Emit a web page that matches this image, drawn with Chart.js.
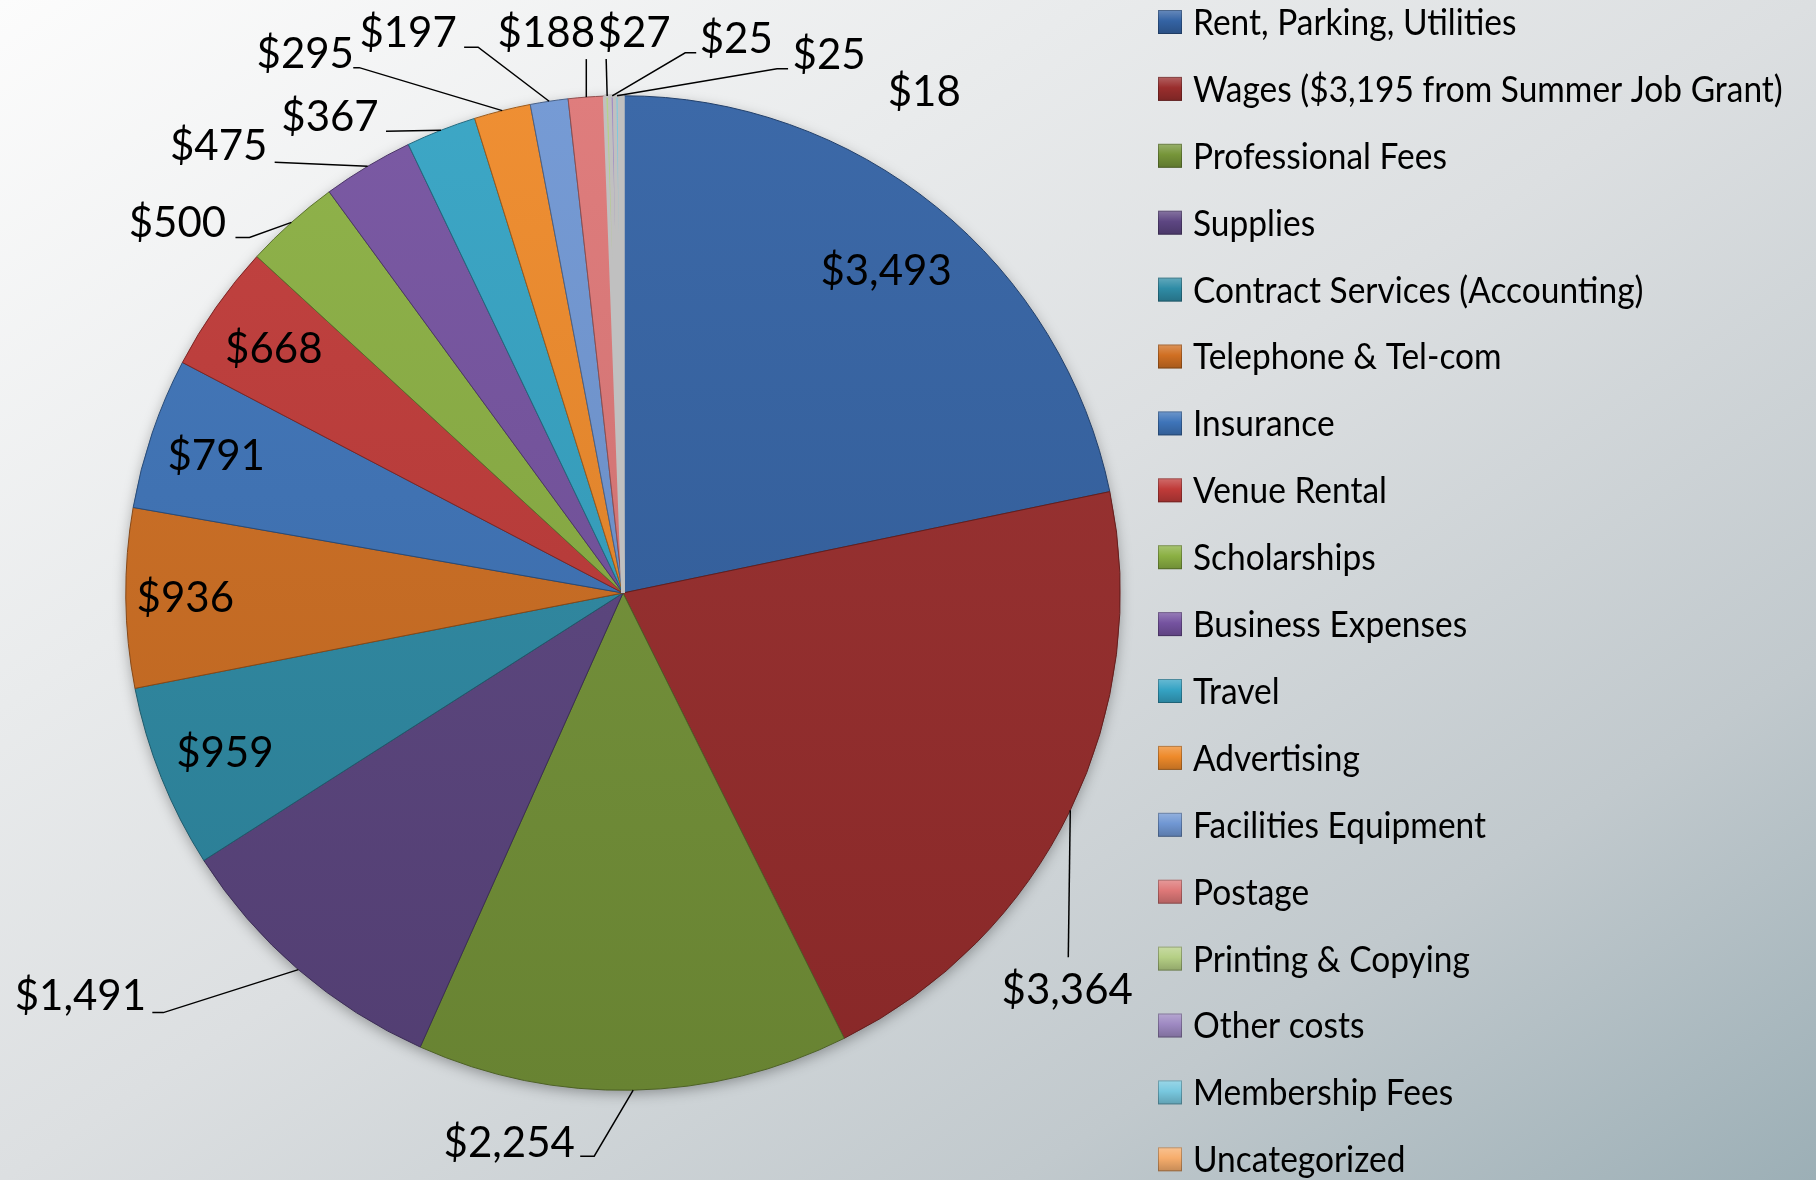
<!DOCTYPE html>
<html>
<head>
<meta charset="utf-8">
<title>Expenses</title>
<script src="https://cdn.jsdelivr.net/npm/chart.js@4.4.1/dist/chart.umd.min.js"></script>
<style>
  html, body { margin: 0; padding: 0; }
  body {
    width: 1816px; height: 1180px; overflow: hidden;
    background: linear-gradient(to bottom right, #fcfcfc 0%, #e9ebec 30%, #dcdfe1 50%, #c1c9cd 78%, #9cafb6 100%);
  }
  canvas { display: block; }
</style>
</head>
<body>
<canvas id="chart" width="1816" height="1180"></canvas>
<script>
// expense categories, clockwise from 12 o'clock
const categories = [
  'Rent, Parking, Utilities',
  'Wages ($3,195 from Summer Job Grant)',
  'Professional Fees',
  'Supplies',
  'Contract Services (Accounting)',
  'Telephone & Tel-com',
  'Insurance',
  'Venue Rental',
  'Scholarships',
  'Business Expenses',
  'Travel',
  'Advertising',
  'Facilities Equipment',
  'Postage',
  'Printing & Copying',
  'Other costs',
  'Membership Fees',
  'Uncategorized'
];
const amounts = [3493, 3364, 2254, 1491, 959, 936, 791, 668, 500, 475, 367, 295, 197, 188, 27, 25, 25, 18];

const sliceColors = [
  '#3463a4', '#9a2e2d', '#769539', '#5d4682', '#2f8ca6', '#d06f22',
  '#3e74b9', '#c03b39', '#8bb043', '#7553a0', '#35a3c4', '#ee8a2a',
  '#7097d3', '#de7878', '#b5cf85', '#9e89c2', '#78c8df', '#f6ad6c'
];

// 'in' = inside end, otherwise [textDx, textDy, kneeDx, kneeDy, stub] from the slice's outer edge
const labelPlacement = [
  'in',
  [-3, 179, -2, 147, 0],
  [-124, 52, -39, 66, -14],
  [-218, 25, -135, 43, -11],
  'in', 'in', 'in', 'in',
  [-114, 0, -42, 15, -14],
  [-149, -21, -93, -4, 0],
  [-111, -14, -55, 1, 0],
  [-197, -58, -143, -43, -6],
  [-141, -69, -71, -54, -14],
  [-40, -65, 0, -38, 0],
  [27, -64, -1, -37, 0],
  [124, -58, 73, -43, 11],
  [212, -42, 160, -27, 11],
  [303, -5, null, null, 0]
];

const VALUE_SIZE = 42;
const LEGEND_SIZE = 36;
const LEGEND_SQUEEZE = 0.93;
const FONT = 'Lato, "Open Sans", sans-serif';

function shade(hex, amt) {
  const n = parseInt(hex.slice(1), 16);
  let r = n >> 16, g = (n >> 8) & 255, b = n & 255;
  const t = amt < 0 ? 0 : 255, p = Math.abs(amt);
  r = Math.round(r + (t - r) * p);
  g = Math.round(g + (t - g) * p);
  b = Math.round(b + (t - b) * p);
  return `rgb(${r},${g},${b})`;
}

const money = v => '$' + v.toLocaleString('en-US');

function sliceFill(c) {
  const base = sliceColors[c.dataIndex] || '#888888';
  const area = c.chart.chartArea;
  if (!area || c.dataIndex === undefined) return base;
  const g = c.chart.ctx.createLinearGradient(0, area.top, 0, area.bottom);
  g.addColorStop(0, shade(base, 0.04));
  g.addColorStop(1, shade(base, -0.12));
  return g;
}

const tiny = amounts.map(v => v < 50);

const pieShadow = {
  id: 'pieShadow',
  beforeDatasetsDraw(chart) {
    const arc = chart.getDatasetMeta(0).data[0];
    if (!arc) return;
    const {x, y, outerRadius} = arc.getProps(['x', 'y', 'outerRadius'], true);
    const ctx = chart.ctx;
    ctx.save();
    ctx.shadowColor = 'rgba(0,0,0,0.35)';
    ctx.shadowBlur = 14;
    ctx.shadowOffsetY = 4;
    ctx.fillStyle = '#999';
    ctx.beginPath();
    ctx.arc(x, y, outerRadius - 1, 0, Math.PI * 2);
    ctx.fill();
    ctx.restore();
  }
};

const valueLabels = {
  id: 'valueLabels',
  afterDatasetsDraw(chart) {
    const ctx = chart.ctx;
    const arcs = chart.getDatasetMeta(0).data;
    ctx.save();
    ctx.font = `${VALUE_SIZE}px ${FONT}`;
    ctx.fillStyle = '#000';
    ctx.strokeStyle = '#000';
    ctx.lineWidth = 1.5;
    ctx.textAlign = 'center';
    ctx.textBaseline = 'alphabetic';
    const capHalf = VALUE_SIZE * 0.717 / 2;
    arcs.forEach((arc, i) => {
      const {x, y, startAngle, endAngle, outerRadius} =
        arc.getProps(['x', 'y', 'startAngle', 'endAngle', 'outerRadius'], true);
      const mid = (startAngle + endAngle) / 2;
      const cos = Math.cos(mid), sin = Math.sin(mid);
      const text = money(amounts[i]);
      const spot = labelPlacement[i];
      if (spot === 'in') {
        // push the label out until its padded far corner touches the rim
        const w = ctx.measureText(text).width, h = 75;
        const R = outerRadius - 9;
        const b = Math.abs(cos) * w + Math.abs(sin) * h;
        const c = (w * w + h * h) / 4 - R * R;
        const d = (-b + Math.sqrt(b * b - 4 * c)) / 2;
        ctx.fillText(text, x + d * cos, y + d * sin + capHalf);
        return;
      }
      const [tx, ty, kx, ky, stub] = spot;
      const ex = x + outerRadius * cos, ey = y + outerRadius * sin;
      if (kx !== null) {
        ctx.beginPath();
        ctx.moveTo(ex, ey);
        ctx.lineTo(ex + kx, ey + ky);
        if (stub) ctx.lineTo(ex + kx + stub, ey + ky);
        ctx.stroke();
      }
      ctx.fillText(text, ex + tx, ey + ty + capHalf);
    });
    ctx.restore();
  }
};

const sideLegend = {
  id: 'sideLegend',
  afterDraw(chart) {
    const ctx = chart.ctx;
    const left = 1158, top = 22, rowH = 66.9, box = 24;
    ctx.save();
    ctx.font = `${LEGEND_SIZE}px ${FONT}`;
    ctx.textAlign = 'left';
    ctx.textBaseline = 'alphabetic';
    chart.data.labels.forEach((label, i) => {
      const cy = top + i * rowH;
      const col = sliceColors[i];
      const g = ctx.createLinearGradient(0, cy - box / 2, 0, cy + box / 2);
      g.addColorStop(0, shade(col, 0.25));
      g.addColorStop(0.45, col);
      g.addColorStop(1, shade(col, -0.2));
      ctx.fillStyle = g;
      ctx.fillRect(left, cy - box / 2, box, box);
      ctx.strokeStyle = 'rgba(0,0,0,0.25)';
      ctx.lineWidth = 1;
      ctx.strokeRect(left + 0.5, cy - box / 2 + 0.5, box - 1, box - 1);
      ctx.fillStyle = '#000';
      ctx.save();
      ctx.translate(left + 35, cy + LEGEND_SIZE * 0.717 / 2);
      ctx.scale(LEGEND_SQUEEZE, 1);
      ctx.fillText(label, 0, 0);
      ctx.restore();
    });
    ctx.restore();
  }
};

const ctx = document.getElementById('chart').getContext('2d');
const chart = new Chart(ctx, {
  type: 'pie',
  data: {
    labels: categories,
    datasets: [{
      data: amounts,
      backgroundColor: sliceFill,
      borderColor: sliceColors.map((c, i) => tiny[i] ? '#c0c0c0' : shade(c, -0.35)),
      borderWidth: tiny.map(t => t ? 3.5 : 1)
    }]
  },
  options: {
    responsive: false,
    animation: false,
    layout: {
      padding: { left: 124, right: 694, top: 94, bottom: 88 }
    },
    plugins: {
      legend: { display: false },
      tooltip: { enabled: false }
    }
  },
  plugins: [pieShadow, valueLabels, sideLegend]
});
</script>
</body>
</html>
